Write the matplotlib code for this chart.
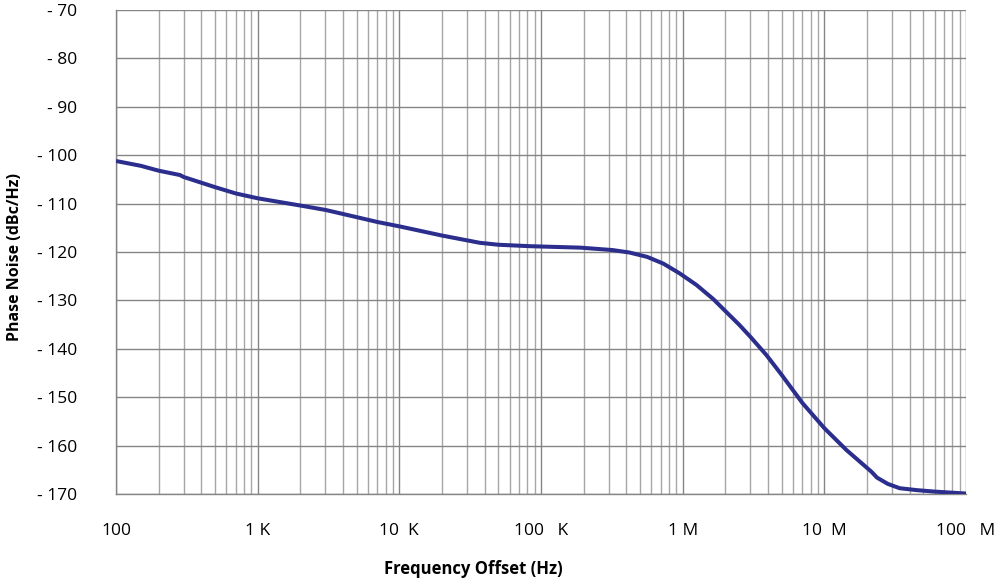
import numpy as np
from matplotlib import pyplot as plt
from matplotlib.ticker import FixedLocator, LogLocator, NullFormatter

# phase noise curve
freq_hz = [100, 150, 200, 283, 300, 500, 700, 1e3, 2e3, 3e3, 5e3, 7e3, 1e4, 2e4,
           3.7e4, 5e4, 8.4e4, 1.9e5, 3.2e5, 4.2e5, 5.6e5, 7.3e5, 9.5e5, 1.25e6,
           1.64e6, 2e6, 2.5e6, 3e6, 3.9e6, 5e6, 7e6, 1e7, 1.43e7, 2e7, 2.15e7,
           2.35e7, 2.8e7, 3.4e7, 4.5e7, 6e7, 1e8]
phase_noise = [-101.2, -102.2, -103.2, -104.1, -104.5, -106.6, -107.9, -108.9,
               -110.4, -111.3, -112.8, -113.8, -114.7, -116.6, -118.1, -118.5,
               -118.8, -119.1, -119.6, -120.1, -121.0, -122.4, -124.4, -126.8,
               -129.7, -132.2, -135.0, -137.5, -141.3, -145.4, -151.2, -156.4,
               -160.9, -164.6, -165.4, -166.6, -167.9, -168.8, -169.2, -169.5,
               -169.9]

x_ticks = [1e2, 1e3, 1e4, 1e5, 1e6, 1e7, 1e8]
x_tick_labels = ["100", "1 K", "10  K", "100   K", "1 M", "10  M", "100   M"]
y_ticks = list(range(-170, -69, 10))
y_tick_labels = ["- %d" % abs(v) for v in y_ticks]

plt.rcParams['font.family'] = ['Open Sans', 'DejaVu Sans']

fig = plt.figure(figsize=(9.95, 5.81), dpi=100)
ax = fig.add_axes([0.1166, 0.1497, 0.8543, 0.8331])

ax.plot(freq_hz, phase_noise, color='#2b2e8c', linewidth=2.9, solid_capstyle='butt',
        solid_joinstyle='round', zorder=3)

ax.set_xscale('log')
ax.set_xlim(1e2, 1e8)
ax.set_ylim(-170, -70)

ax.xaxis.set_major_locator(FixedLocator(x_ticks))
ax.set_xticklabels(x_tick_labels)
ax.xaxis.set_minor_locator(LogLocator(base=10, subs=np.arange(2, 10)))
ax.xaxis.set_minor_formatter(NullFormatter())
ax.set_yticks(y_ticks)
ax.set_yticklabels(y_tick_labels)

ax.grid(which='major', axis='both', color='#858585', linewidth=1.0)
ax.grid(which='minor', axis='x', color='#a6a6a6', linewidth=1.0)

ax.tick_params(axis='both', which='both', length=0, labelsize=12.5, colors='black')
ax.tick_params(axis='x', pad=21)
ax.tick_params(axis='y', pad=28)

for side in ['top', 'right']:
    ax.spines[side].set_visible(False)
for side in ['left', 'bottom']:
    ax.spines[side].set_color('#858585')
    ax.spines[side].set_linewidth(1.0)

fig.text(473 / 995, 1 - 569 / 581, "Frequency Offset (Hz)", ha='center', va='center',
         fontsize=12, fontweight='bold')
fig.text(15 / 995, 1 - 257 / 581, "Phase Noise (dBc/Hz)", ha='center', va='center',
         rotation=90, fontsize=11.5, fontweight='bold')

fig.savefig('out.png', dpi=100)
